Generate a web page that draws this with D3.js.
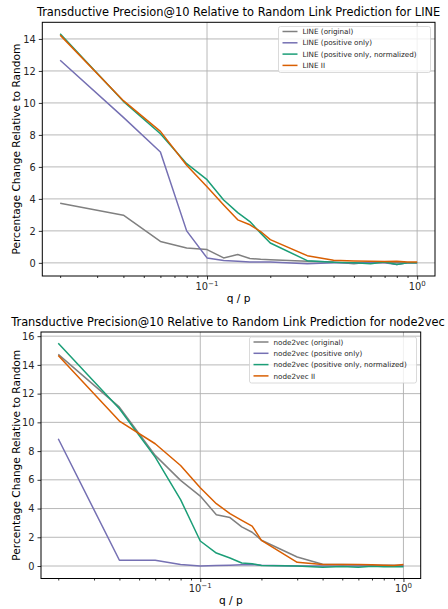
<!DOCTYPE html>
<meta charset="utf-8">
<style>
body { margin: 0; background: #fff; font-family: "DejaVu Sans", sans-serif; }
.grid line { stroke: #b0b0b0; stroke-width: 0.9; }
.spine { fill: none; stroke: #000; stroke-width: 1; }
.series { fill: none; stroke-width: 1.5; stroke-linejoin: round; }
</style>
<body>
<script src="https://cdn.jsdelivr.net/npm/d3@7"></script>
<script>

// q / p values shared by both panels
var qp = [0.02, 0.04, 0.06, 0.08, 0.1, 0.12, 0.14, 0.16, 0.18, 0.2, 0.3, 0.4, 0.5, 0.6, 0.7, 0.8, 0.9, 1.0];

// LINE panel
var lineOriginal   = [3.73, 2.98, 1.34, 0.93, 0.83, 0.31, 0.52, 0.27, 0.22, 0.19, 0.10, 0.05, -0.05, 0.05, 0.02, 0.0, 0.0, 0.0];
var linePositive   = [12.67, 9.1, 6.93, 2.0, 0.31, 0.15, 0.10, 0.05, 0.05, 0.05, -0.05, 0.0, 0.0, 0.0, 0.0, -0.1, 0.0, 0.0];
var lineNormalized = [14.32, 10.1, 8.07, 6.2, 5.2, 3.93, 3.14, 2.58, 1.86, 1.24, 0.14, 0.04, 0.0, -0.05, 0.05, -0.1, 0.0, 0.0];
var lineII         = [14.24, 10.14, 8.22, 6.1, 4.76, 3.62, 2.69, 2.38, 1.96, 1.45, 0.45, 0.16, 0.12, 0.1, 0.08, 0.1, 0.05, 0.05];

// node2vec panel
var n2vOriginal   = [14.73, 11.06, 7.7, 5.96, 4.87, 3.57, 3.37, 2.72, 2.35, 1.79, 0.63, 0.12, 0.1, 0.08, 0.05, 0.05, 0.05, 0.05];
var n2vPositive   = [8.86, 0.4, 0.4, 0.1, 0.0, 0.03, 0.05, 0.08, 0.1, 0.05, 0.0, 0.0, 0.0, 0.0, 0.0, 0.0, 0.0, 0.0];
var n2vNormalized = [15.51, 10.95, 7.58, 4.62, 1.74, 0.9, 0.56, 0.21, 0.16, 0.03, 0.0, -0.09, -0.03, -0.08, -0.02, -0.05, -0.05, -0.05];
var n2vII         = [14.66, 10.09, 8.51, 7.0, 5.45, 4.34, 3.65, 3.18, 2.78, 1.79, 0.26, 0.1, 0.1, 0.1, 0.08, 0.05, 0.03, 0.1];

var colors = ["#808080", "#7570b3", "#1b9e77", "#d95f02"];

var svg = d3.select("body").append("svg")
    .attr("width", 448)
    .attr("height", 609);

function drawPanel(p) {
    var g = svg.append("g");

    // matplotlib style 5% margins
    var lx = d3.extent(qp).map(Math.log10),
        padX = (lx[1] - lx[0]) * 0.05;
    var all = d3.merge(p.series),
        ey = d3.extent(all),
        padY = (ey[1] - ey[0]) * 0.05;

    var x = d3.scaleLog()
        .domain([Math.pow(10, lx[0] - padX), Math.pow(10, lx[1] + padX)])
        .range([p.left, p.right]);
    var y = d3.scaleLinear()
        .domain([ey[0] - padY, ey[1] + padY])
        .range([p.bottom, p.top]);

    var yTicks = y.ticks(8);
    var majors = [0.1, 1];
    var minors = x.ticks().filter(function(d) { return majors.indexOf(d) < 0; });

    // grid
    var grid = g.append("g").attr("class", "grid");
    grid.selectAll(".gy").data(yTicks).enter().append("line")
        .attr("x1", p.left).attr("x2", p.right)
        .attr("y1", function(d) { return y(d); }).attr("y2", function(d) { return y(d); });
    grid.selectAll(".gx").data(majors).enter().append("line")
        .attr("x1", function(d) { return x(d); }).attr("x2", function(d) { return x(d); })
        .attr("y1", p.top).attr("y2", p.bottom);

    // lines
    var line = d3.line()
        .x(function(d, i) { return x(qp[i]); })
        .y(function(d) { return y(d); });

    g.append("clipPath").attr("id", "clip" + p.id)
        .append("rect").attr("x", p.left).attr("y", p.top)
        .attr("width", p.right - p.left).attr("height", p.bottom - p.top);

    p.series.forEach(function(s, i) {
        g.append("path")
            .attr("class", "series")
            .attr("clip-path", "url(#clip" + p.id + ")")
            .style("stroke", colors[i])
            .attr("d", line(s));
    });

    // axes
    var yAxis = g.append("g")
        .attr("transform", "translate(" + p.left + ",0)")
        .call(d3.axisLeft(y).tickValues(yTicks).tickSize(3.5).tickPadding(3).tickFormat(d3.format("d")));
    var xAxis = g.append("g")
        .attr("transform", "translate(0," + p.bottom + ")")
        .call(d3.axisBottom(x).tickValues(majors).tickSize(3.5).tickPadding(3).tickFormat(""));
    var xMinor = g.append("g")
        .attr("transform", "translate(0," + p.bottom + ")")
        .call(d3.axisBottom(x).tickValues(minors).tickSize(2).tickFormat(""));

    [yAxis, xAxis, xMinor].forEach(function(a) {
        a.select(".domain").remove();
        a.selectAll("line").attr("stroke", "#000").attr("stroke-width", 0.8);
        a.selectAll("text")
            .attr("fill", "#262626")
            .style("font-family", "DejaVu Sans")
            .style("font-size", "9.8px");
    });

    // log tick labels: 10^-1, 10^0
    majors.forEach(function(d) {
        var t = g.append("text")
            .attr("x", x(d))
            .attr("y", p.bottom + 13.5)
            .attr("text-anchor", "middle")
            .attr("fill", "#262626")
            .style("font-size", "9.8px");
        t.append("tspan").text("10");
        t.append("tspan")
            .attr("dy", -4)
            .style("font-size", "7px")
            .text(d === 1 ? "0" : "\u22121");
    });

    // frame
    g.append("rect").attr("class", "spine")
        .attr("x", p.left).attr("y", p.top)
        .attr("width", p.right - p.left).attr("height", p.bottom - p.top);

    // labels
    g.append("text")
        .attr("x", p.titleX)
        .attr("y", p.top - 6)
        .attr("text-anchor", "middle")
        .style("font-size", "11.4px")
        .text(p.title);

    g.append("text")
        .attr("x", (p.left + p.right) / 2)
        .attr("y", p.bottom + 25.5)
        .attr("text-anchor", "middle")
        .style("font-size", "10.6px")
        .text("q / p");

    g.append("text")
        .attr("transform", "translate(" + 19.5 + "," + ((p.top + p.bottom) / 2) + ") rotate(-90)")
        .attr("text-anchor", "middle")
        .style("font-size", "10.6px")
        .text("Percentage Change Relative to Random");

    // legend
    var lg = g.append("g").attr("transform", "translate(" + p.legend.x + "," + p.legend.y + ")");
    lg.append("rect")
        .attr("width", p.legend.w).attr("height", p.legend.h)
        .attr("rx", 2)
        .attr("fill", "#fff").attr("fill-opacity", 0.8)
        .attr("stroke", "#d0d0d0").attr("stroke-width", 0.8);
    p.names.forEach(function(n, i) {
        var yy = 5 + i * 11.3;
        lg.append("line")
            .attr("x1", 4).attr("x2", 19)
            .attr("y1", yy).attr("y2", yy)
            .attr("stroke", colors[i]).attr("stroke-width", 1.5);
        lg.append("text")
            .attr("x", 24).attr("y", yy + 2.6)
            .attr("fill", "#262626")
            .style("font-size", "7.2px")
            .text(n);
    });
}

drawPanel({
    id: 1,
    left: 42.3, right: 435, top: 22.3, bottom: 276,
    titleX: 238.6,
    title: "Transductive Precision@10 Relative to Random Link Prediction for LINE",
    series: [lineOriginal, linePositive, lineNormalized, lineII],
    names: ["LINE (original)", "LINE (positive only)", "LINE (positive only, normalized)", "LINE II"],
    legend: { x: 278.5, y: 26.5, w: 152, h: 46 }
});

drawPanel({
    id: 2,
    left: 41, right: 420.7, top: 332, bottom: 578.5,
    titleX: 228,
    title: "Transductive Precision@10 Relative to Random Link Prediction for node2vec",
    series: [n2vOriginal, n2vPositive, n2vNormalized, n2vII],
    names: ["node2vec (original)", "node2vec (positive only)", "node2vec (positive only, normalized)", "node2vec II"],
    legend: { x: 249.5, y: 337, w: 167, h: 46 }
});

</script>
</body>
